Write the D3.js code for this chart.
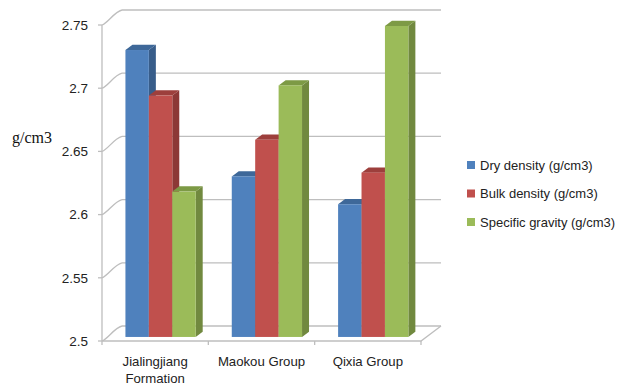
<!DOCTYPE html>
<html>
<head>
<meta charset="utf-8">
<script src="https://cdn.jsdelivr.net/npm/d3@7/dist/d3.min.js"></script>
<style>
  html, body { margin: 0; padding: 0; background: #fff; }
  svg { display: block; }
</style>
</head>
<body>
<svg id="chart" width="628" height="387"></svg>
<script>
// Rock density per formation
const categories = ["Jialingjiang Formation", "Maokou Group", "Qixia Group"];
const seriesNames = ["Dry density (g/cm3)", "Bulk density (g/cm3)", "Specific gravity (g/cm3)"];
const dryDensity = [2.727, 2.627, 2.605];
const bulkDensity = [2.691, 2.656, 2.630];
const specificGravity = [2.615, 2.699, 2.746];
const yTicks = [2.5, 2.55, 2.6, 2.65, 2.7, 2.75];

const seriesValues = [dryDensity, bulkDensity, specificGravity];
const frontColors = ["#4F81BD", "#C0504D", "#9BBB59"];
const sideColors = ["#385D8A", "#8C3836", "#71893F"];
const topColors = ["#3E6899", "#9D3F3C", "#7D9A45"];

const svg = d3.select("#chart");

// plot geometry (oblique 3D projection)
const x0 = 102, x1 = 421;            // front plane horizontal extent
const depthX = 20, depthY = -15;     // floor depth offset
const y = d3.scaleLinear().domain([2.5, 2.75]).range([341, 25]);
const xCat = d3.scaleBand().domain(categories).range([x0, x1]);
const xSer = d3.scaleBand().domain(seriesNames).range([0, xCat.bandwidth()]).paddingOuter(0.77).paddingInner(0);

const barFront = 0.27, barBack = 0.62;   // depth fractions of bars
const grid = "#BEBEBE";

// back wall gridlines with left wall diagonals
const gGrid = svg.append("g").attr("fill", "none").attr("stroke", grid).attr("stroke-width", 1.3);
yTicks.forEach(t => {
  const yf = y(t), yb = yf + depthY;
  gGrid.append("line").attr("x1", x0 + depthX).attr("x2", x1 + depthX).attr("y1", yb).attr("y2", yb);
  gGrid.append("path").attr("d", `M${x0},${yf} C${x0 + 6},${yf - 2} ${x0 + 12},${yb + 2} ${x0 + depthX},${yb}`);
  // tick mark on front axis
  gGrid.append("line").attr("x1", x0 - 4).attr("x2", x0).attr("y1", yf).attr("y2", yf);
});

// floor outline
gGrid.append("path").attr("d",
  `M${x0},${y(2.5)} L${x1},${y(2.5)} L${x1 + depthX},${y(2.5) + depthY}`);
// front vertical axis
gGrid.append("line").attr("x1", x0).attr("x2", x0).attr("y1", y(2.75)).attr("y2", y(2.5));
// category ticks
[...categories.map(c => xCat(c)), x1].forEach(xv => {
  gGrid.append("line").attr("x1", xv).attr("x2", xv).attr("y1", y(2.5)).attr("y2", y(2.5) + 4);
});

// bars, drawn left to right so each front face covers its left neighbour's side
const gBars = svg.append("g");
categories.forEach((cat, ci) => {
  seriesNames.forEach((s, si) => {
    const v = seriesValues[si][ci];
    const bx = xCat(cat) + xSer(s) + barFront * depthX;
    const bw = xSer.bandwidth();
    const by0 = y(2.5) + barFront * depthY;
    const by1 = y(v) + barFront * depthY;
    const dx = (barBack - barFront) * depthX, dy = (barBack - barFront) * depthY;
    // side face
    gBars.append("path")
      .attr("d", `M${bx + bw},${by1} L${bx + bw + dx},${by1 + dy} L${bx + bw + dx},${by0 + dy} L${bx + bw},${by0} Z`)
      .attr("fill", sideColors[si]);
    // top face
    gBars.append("path")
      .attr("d", `M${bx},${by1} L${bx + dx},${by1 + dy} L${bx + bw + dx},${by1 + dy} L${bx + bw},${by1} Z`)
      .attr("fill", topColors[si]);
    // front face
    gBars.append("rect")
      .attr("x", bx).attr("y", by1).attr("width", bw).attr("height", by0 - by1)
      .attr("fill", frontColors[si]);
  });
});

// y tick labels
svg.append("g").selectAll("text").data(yTicks).join("text")
  .attr("x", 88).attr("y", d => y(d)).attr("dy", "0.35em")
  .attr("text-anchor", "end")
  .attr("font-family", "'Liberation Sans', Arial, sans-serif").attr("font-size", 13.5)
  .attr("fill", "#222")
  .text(d => d3.format("")(d));

// y axis title
svg.append("text").attr("x", 12).attr("y", 143)
  .attr("font-family", "'Liberation Serif', 'Times New Roman', serif").attr("font-size", 16)
  .attr("fill", "#111").text("g/cm3");

// category labels
const catLines = { "Jialingjiang Formation": ["Jialingjiang", "Formation"] };
categories.forEach(c => {
  const lines = catLines[c] || [c];
  const t = svg.append("text")
    .attr("x", xCat(c) + xCat.bandwidth() / 2).attr("y", 366)
    .attr("text-anchor", "middle")
    .attr("font-family", "'Liberation Sans', Arial, sans-serif").attr("font-size", 13.2)
    .attr("fill", "#222");
  lines.forEach((l, i) => t.append("tspan").attr("x", xCat(c) + xCat.bandwidth() / 2).attr("dy", i ? 17 : 0).text(l));
});

// legend
const legend = svg.append("g").attr("transform", "translate(467,165)");
seriesNames.forEach((s, i) => {
  const row = legend.append("g").attr("transform", `translate(0,${i * 28.5})`);
  row.append("rect").attr("x", 0).attr("y", -4).attr("width", 8).attr("height", 8).attr("fill", frontColors[i]);
  row.append("text").attr("x", 13).attr("y", 0).attr("dy", "0.35em")
    .attr("font-family", "'Liberation Sans', Arial, sans-serif").attr("font-size", 13)
    .attr("fill", "#222").text(s);
});
</script>
</body>
</html>
